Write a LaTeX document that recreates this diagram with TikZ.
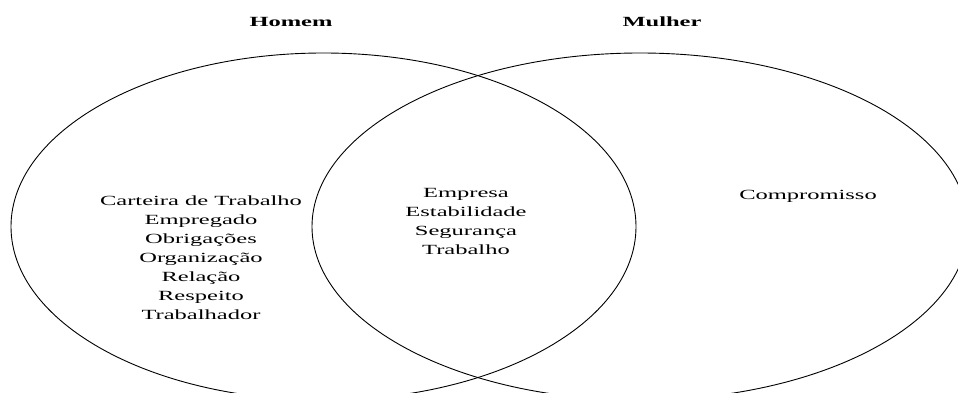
\documentclass[tikz,border=0pt]{standalone}
\usepackage{fontspec}
\setmainfont{Liberation Serif}
\usepackage{graphicx}
\usetikzlibrary{shapes.geometric}

% wide-set text block: centred lines, stretched horizontally
\newcommand\widelines[1]{\scalebox{1.75}[1]{\begin{tabular}[t]{@{}c@{}}#1\end{tabular}}}

\tikzset{
  setshape/.style={ellipse, draw=black, line width=0.9pt, inner sep=0pt},
  label text/.style={anchor=base, inner sep=0pt, font=\fontsize{14}{19}\selectfont},
  set title/.style={label text, font=\fontsize{14}{19}\selectfont\bfseries},
}

\begin{document}
\begin{tikzpicture}[x=1pt, y=-1pt]
  \useasboundingbox (0,0) rectangle (958,393);

  % the two sets
  \begin{scope}
    \clip (0,0) rectangle (958,393);
    \node[setshape, minimum width=625pt, minimum height=347.2pt] (homemset) at (323.5,226.6) {};
    \node[setshape, minimum width=656pt, minimum height=347.2pt] (mulherset) at (640,226.6) {};
  \end{scope}

  % set titles
  \node[set title] (homem) at (291,27) {\widelines{Homem}};
  \node[set title] (mulher) at (662,27) {\widelines{Mulher}};

  % members
  \node[label text] (soHomem) at (201,205.6) {\widelines{Carteira de Trabalho\\Empregado\\Obrigações\\Organização\\Relação\\Respeito\\Trabalhador}};
  \node[label text] (ambos) at (466,197.6) {\widelines{Empresa\\Estabilidade\\Segurança\\Trabalho}};
  \node[label text] (soMulher) at (808,199.5) {\widelines{Compromisso}};
\end{tikzpicture}
\end{document}
